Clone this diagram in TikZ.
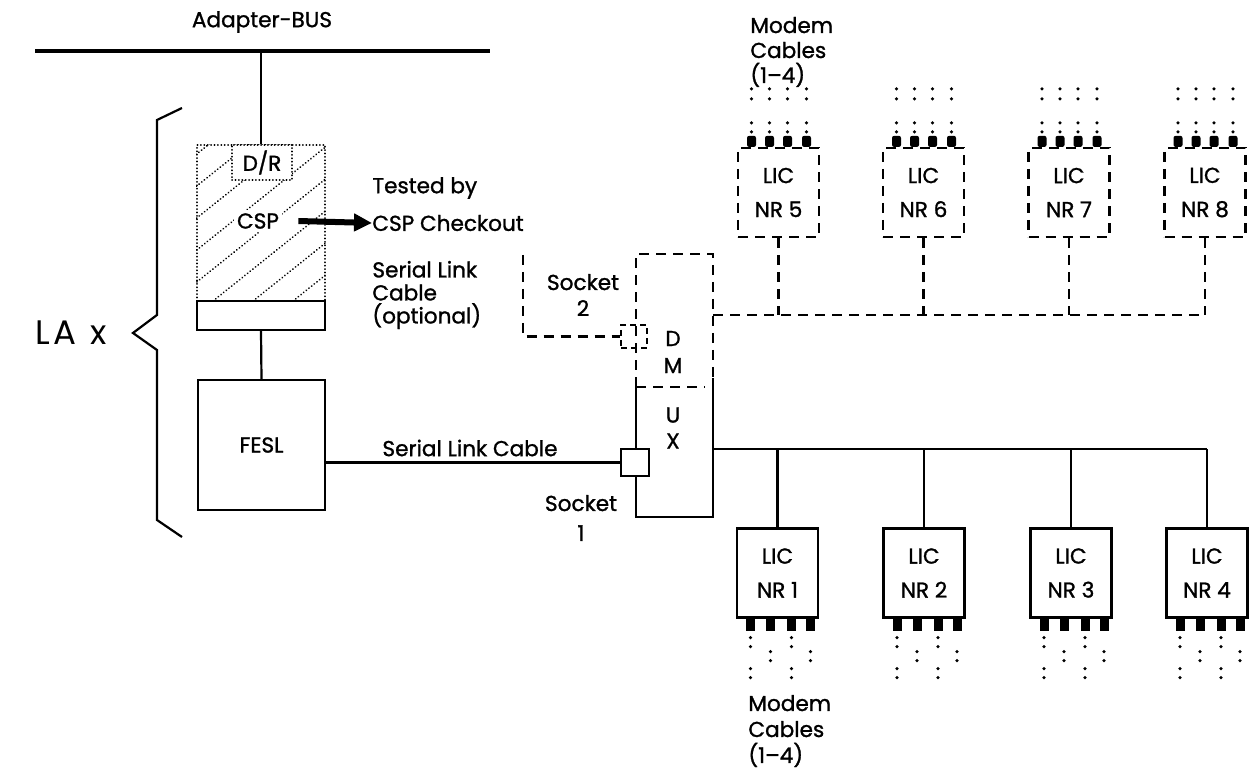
\documentclass[tikz,border=0pt]{standalone}
\usepackage{fontspec}
\setmainfont{Poppins}[FakeBold=1.2]
\newfontfamily\lafont{Poppins}
\usetikzlibrary{arrows.meta,calc}
\tikzset{
  ln/.style={line width=1.1pt},
  dsh/.style={line width=1.1pt, dash pattern=on 5pt off 3.5pt},
  dotln/.style={line width=0.9pt, dash pattern=on 0.1pt off 1.6pt, line cap=round},
  box/.style={draw, line width=1.1pt, fill=white, inner sep=0pt, align=center},
  dbox/.style={box, dash pattern=on 5pt off 3.5pt},
  licbox/.style={minimum width=40.5pt, minimum height=44.5pt, font=\fontsize{10.8}{17}\selectfont},
  txt/.style={font=\fontsize{10.8}{12.5}\selectfont, inner sep=0pt, align=left},
}
\begin{document}
\begin{tikzpicture}[x=0.5pt,y=-0.5pt]
\useasboundingbox (0,0) rectangle (1254,770);

% Adapter bus
\coordinate (busL) at (35,51);
\coordinate (busR) at (490,51);
\draw[line width=2.2pt] (busL) -- (busR);
\node[txt] (bustxt) at (262,22) {Adapter-BUS};

% CSP block with hatch
\node[draw, dotln, minimum width=64pt, minimum height=78pt, inner sep=0pt] (csp) at (261,223) {};
\begin{scope}
  \clip (csp.south west) rectangle (csp.north east);
  \foreach \k in {-6,...,4} \draw[dotln] ({213+40*\k},301) -- ++(260,-208);
\end{scope}
\node[draw, dotln, fill=white, minimum width=30pt, minimum height=17.5pt, inner sep=0pt, font=\fontsize{10.8}{12}\selectfont] (dr) at (262,162.5) {D/R};
\node[txt, fill=white, inner sep=1.5pt] (csplab) at (258,221) {CSP};
\node[box, minimum width=64pt, minimum height=14.5pt] (rect) at (261,315.5) {};
\node[box, minimum width=63.5pt, minimum height=65pt, font=\fontsize{10.8}{12}\selectfont] (fesl) at (261.5,445) {FESL};
\draw[ln] (csp.north) -- (csp.north |- busL);
\draw[ln] (rect.south) -- (fesl.north);

% Tested by
\node[txt, anchor=west] (tested) at (372,188) {Tested by};
\node[txt, anchor=west] (chk) at (372,223) {CSP Checkout};
\draw[line width=3pt, -{Triangle[length=9pt,width=8.5pt]}] ([xshift=8pt]csplab.east) -- (chk.west);

% brace and LA x
\draw[ln, line join=miter] (182,108) -- (157,120) -- (157,315) -- (133,333) -- (157,350) -- (157,520) -- (182,537);
\node[font=\lafont\fontsize{17}{20}\selectfont, inner sep=0pt] (la) at (71,333) {L\kern2pt A\hspace{7pt}x};

% serial link cable optional
\node[txt, anchor=west, font=\fontsize{10.8}{11.5}\selectfont] (slco) at (372,295) {Serial Link\\Cable\\(optional)};

% DMUX
\coordinate (dmTL) at (636,254);
\coordinate (dmTR) at (713,254);
\coordinate (dmML) at (636,387);
\coordinate (dmMR) at (705,387);
\coordinate (dmRS) at (713,378);
\coordinate (dmBL) at (636,517);
\coordinate (dmBR) at (713,517);
\draw[dsh] (dmML) -- (dmTL) -- (dmTR) -- (dmRS);
\draw[dsh] (dmML) -- (dmMR);
\draw[ln] (dmRS) -- (dmBR) -- (dmBL) -- (dmML);
\node[txt, align=center, font=\fontsize{10.8}{13.5}\selectfont] (dm) at (673,352) {D\\M};
\node[txt, align=center, font=\fontsize{10.8}{13}\selectfont] (ux) at (673,428) {U\\X};

% socket 2
\node[draw, line width=1.1pt, dash pattern=on 3pt off 2pt, minimum width=13pt, minimum height=11.5pt, inner sep=0pt] (sock2) at (634,336.5) {};
\coordinate (s2top) at (523,255);
\draw[dsh] (s2top) |- (sock2.west);
\node[txt, align=center, font=\fontsize{10.8}{13}\selectfont] (s2txt) at (583,295) {Socket\\2};

% socket 1
\node[box, minimum width=14pt, minimum height=13.5pt] (sock1) at (635,462.5) {};
\draw[ln] (sock1.west) -- (sock1.west -| fesl.east);
\node[txt] (slc) at (470,448) {Serial Link Cable};
\node[txt, align=center, font=\fontsize{10.8}{15}\selectfont] (s1txt) at (581,518) {Socket\\1};

% lower LICs
\node[box, licbox] (lic1) at (777.5,573) {LIC\\NR 1};
\node[box, licbox] (lic2) at (924,573) {LIC\\NR 2};
\node[box, licbox] (lic3) at (1071,573) {LIC\\NR 3};
\node[box, licbox] (lic4) at (1207,573) {LIC\\NR 4};
\coordinate (lb) at (713,449);
\draw[ln] (lb) -- (lb -| lic4.north);
\foreach \i in {1,...,4} {
  \draw[ln] (lic\i.north) -- (lic\i.north |- lb);
  \foreach \o in {-27,-7,14,33} \fill ($(lic\i.south)+(\o-4.5,0)$) rectangle ++(9,12);
  \foreach \o in {-27,14} \foreach \d in {19,28,50,59} \fill ($(lic\i.south)+(\o,\d)$) circle (0.9pt);
  \foreach \o in {-7,33} \foreach \d in {33,42} \fill ($(lic\i.south)+(\o,\d)$) circle (0.9pt);
}

% upper LICs
\node[dbox, licbox] (lic5) at (778.5,192.5) {LIC\\NR 5};
\node[dbox, licbox] (lic6) at (923.5,192.5) {LIC\\NR 6};
\node[dbox, licbox] (lic7) at (1069,192.5) {LIC\\NR 7};
\node[dbox, licbox] (lic8) at (1205,192.5) {LIC\\NR 8};
\coordinate (ub) at (713,315);
\draw[dsh] (ub) -- (ub -| lic8.south);
\foreach \i in {5,...,8} {
  \draw[dsh] (lic\i.south) -- (lic\i.south |- ub);
  \foreach \o in {-27,-9,9,28} \fill[rounded corners=1pt] ($(lic\i.north)+(\o-4.5,0)$) rectangle ++(9,-11);
  \foreach \o in {-27,-9,9,28} \foreach \d in {-58,-48,-24,-15} \fill ($(lic\i.north)+(\o,\d)$) circle (0.9pt);
}

% modem cable labels
\node[txt, anchor=west, font=\fontsize{10.8}{12.5}\selectfont] (mtop) at (750,52) {Modem\\Cables\\(1–4)};
\node[txt, anchor=west, font=\fontsize{10.8}{13}\selectfont] (mbot) at (748,731) {Modem\\Cables\\(1–4)};
\end{tikzpicture}
\end{document}
